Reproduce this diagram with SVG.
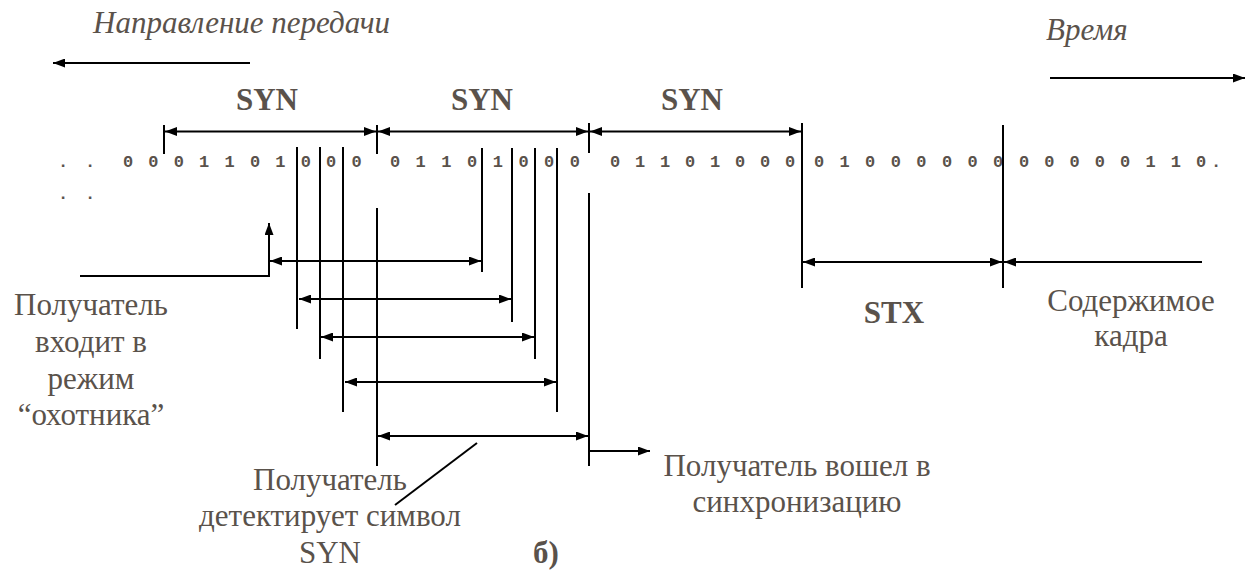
<svg xmlns="http://www.w3.org/2000/svg" width="1249" height="588" viewBox="0 0 1249 588">
<defs>
<marker id="ah" markerUnits="userSpaceOnUse" markerWidth="13" markerHeight="9" refX="12" refY="4.5" orient="auto-start-reverse">
<path d="M0,0 L12,4.5 L0,9 z" fill="#000"/>
</marker>
<style>
.ln{stroke:#000;stroke-width:2;fill:none}
.ar{stroke:#000;stroke-width:2;fill:none;marker-end:url(#ah)}
.dar{stroke:#000;stroke-width:2;fill:none;marker-start:url(#ah);marker-end:url(#ah)}
</style>
</defs>
<rect width="1249" height="588" fill="#fff"/>

<g style="font-family:'Liberation Serif',serif;font-size:31px;fill:#5a524b">
<g id="direction" style="font-style:italic">
<text x="93" y="33">Направление передачи</text>
</g>
<g id="time" style="font-style:italic">
<text x="1046" y="40">Время</text>
</g>
<g id="syn-labels" style="font-weight:bold" text-anchor="middle">
<text x="267" y="110">SYN</text>
<text x="482" y="110">SYN</text>
<text x="692" y="110">SYN</text>
</g>
<g id="hunter" text-anchor="middle">
<text x="91" y="315">Получатель</text>
<text x="91" y="352">входит в</text>
<text x="91" y="389">режим</text>
<text x="91" y="425">“охотника”</text>
</g>
<g id="detect" text-anchor="middle">
<text x="330" y="490">Получатель</text>
<text x="330" y="526">детектирует символ</text>
<text x="330" y="563">SYN</text>
</g>
<g id="sync" text-anchor="middle">
<text x="797" y="476">Получатель вошел в</text>
<text x="797" y="512">синхронизацию</text>
</g>
<g id="stx" style="font-weight:bold" text-anchor="middle">
<text x="894" y="323">STX</text>
</g>
<g id="content" text-anchor="middle">
<text x="1131" y="311">Содержимое</text>
<text x="1131" y="346">кадра</text>
</g>
<g id="caption" style="font-weight:bold" text-anchor="middle">
<text x="546" y="563">б)</text>
</g>
</g>

<g id="bitstream" style="font-family:'Liberation Mono',monospace;font-size:17px;font-weight:bold;fill:#5a524b" text-anchor="middle">
<text x="63 90" y="167">..</text>
<text x="128 153.4 178.8 204.2 229.6 255 280.4 305.8 331.2 356.6" y="167">0001101000</text>
<text x="395 420.7 446.4 472.1 497.8 523.5 549.2 574.9" y="167">01101000</text>
<text x="615 640 665 690 715 740 765 790" y="167">01101000</text>
<text x="819 844.6 870.2 895.8 921.4 947 972.6 998.2" y="167">01000000</text>
<text x="1024 1049.3 1074.6 1099.9 1125.2 1150.5 1175.8 1201.1 1216" y="167">00000110.</text>
<text x="63 90" y="199">..</text>
</g>

<g id="connectors">
<line class="ar" x1="250" y1="63" x2="53" y2="63"/>
<line class="ar" x1="1050" y1="78" x2="1245" y2="78"/>
<line class="ln" x1="164" y1="125" x2="164" y2="154"/>
<line class="ln" x1="377" y1="125" x2="377" y2="154"/>
<line class="ln" x1="589" y1="123" x2="589" y2="153"/>
<line class="ln" x1="802" y1="123" x2="802" y2="288"/>
<line class="ln" x1="1003" y1="125" x2="1003" y2="288"/>
<line class="dar" x1="165" y1="131.5" x2="376" y2="131.5"/>
<line class="dar" x1="378" y1="131.5" x2="588" y2="131.5"/>
<line class="dar" x1="590" y1="131.5" x2="801" y2="131.5"/>
<line class="ln" x1="297" y1="147" x2="297" y2="329"/>
<line class="ln" x1="320" y1="147" x2="320" y2="359"/>
<line class="ln" x1="343" y1="147" x2="343" y2="412"/>
<line class="ln" x1="377" y1="208" x2="377" y2="466"/>
<line class="ln" x1="482" y1="148" x2="482" y2="272"/>
<line class="ln" x1="512" y1="148" x2="512" y2="322"/>
<line class="ln" x1="535" y1="148" x2="535" y2="359"/>
<line class="ln" x1="557" y1="148" x2="557" y2="412"/>
<line class="ln" x1="589" y1="193" x2="589" y2="466"/>
<line class="dar" x1="270" y1="261" x2="481" y2="261"/>
<line class="dar" x1="299" y1="299" x2="511" y2="299"/>
<line class="dar" x1="321" y1="337" x2="534" y2="337"/>
<line class="dar" x1="345" y1="382" x2="556" y2="382"/>
<line class="dar" x1="378" y1="436" x2="588" y2="436"/>
<line class="ar" x1="589" y1="451" x2="650" y2="451"/>
<polyline class="ar" points="80,276 269,276 269,223"/>
<line class="ln" x1="477" y1="443" x2="395" y2="505"/>
<line class="dar" x1="803" y1="262" x2="1002" y2="262"/>
<line class="ar" x1="1202" y1="262" x2="1004" y2="262"/>
</g>
</svg>
